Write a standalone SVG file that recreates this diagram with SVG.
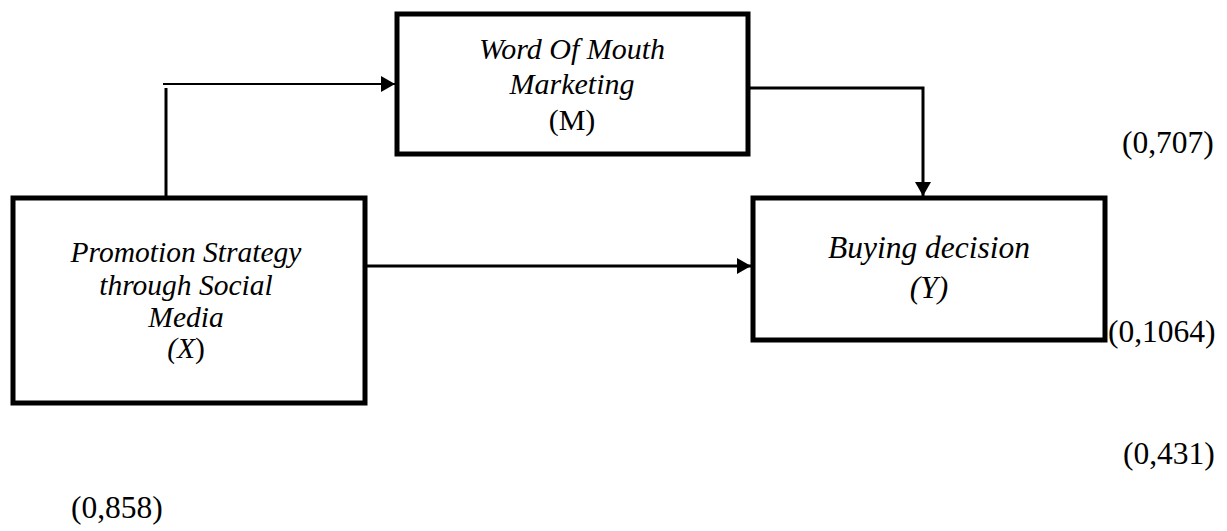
<svg xmlns="http://www.w3.org/2000/svg" width="1227" height="531" viewBox="0 0 1227 531">
<style>
.box{fill:#fff;stroke:#000;stroke-width:5;stroke-linejoin:miter}
text{font-family:'Liberation Serif',Tinos,'Times New Roman','DejaVu Serif',serif;fill:#000}
.t{text-anchor:middle}
.i{font-style:italic}
.n{font-size:31.5px}
.c{fill:none;stroke:#000;stroke-width:3}
</style>
<defs>
<marker id="ah" markerUnits="userSpaceOnUse" markerWidth="14" markerHeight="16" refX="14" refY="8" orient="auto">
<path d="M0,0 L14,8 L0,16 Z" fill="#000"/>
</marker>
</defs>
<rect width="1227" height="531" fill="#fff"/>
<g id="connectors">
<line class="c" x1="166" y1="197" x2="166" y2="88"/>
<line class="c" x1="163" y1="84" x2="395" y2="84" style="stroke-width:2" marker-end="url(#ah)"/>
<line class="c" x1="365" y1="266" x2="751" y2="266" marker-end="url(#ah)"/>
<polyline class="c" points="748,88 923,88 923,196" marker-end="url(#ah)"/>
</g>
<g id="node-M">
<rect class="box" x="397" y="14" width="351" height="140"/>
<text class="t i" x="572" y="59" font-size="30">Word Of Mouth</text>
<text class="t i" x="572" y="94" font-size="30">Marketing</text>
<text class="t" x="572" y="130" font-size="30">(M)</text>
</g>
<g id="node-X">
<rect class="box" x="13" y="198" width="352" height="205"/>
<text class="t i" x="186" y="262" font-size="29.5">Promotion Strategy</text>
<text class="t i" x="186" y="295" font-size="29.5">through Social</text>
<text class="t i" x="186" y="327" font-size="29.5">Media</text>
<text class="t" x="186" y="358" font-size="29.5"><tspan class="i">(X</tspan>)</text>
</g>
<g id="node-Y">
<rect class="box" x="753" y="198" width="352" height="142"/>
<text class="t i" x="929" y="258" font-size="31.5">Buying decision</text>
<text class="t i" x="929" y="298" font-size="31.5">(Y)</text>
</g>
<g id="labels">
<text class="n" x="1122" y="153">(0,707)</text>
<text class="n" x="1108" y="342">(0,1064)</text>
<text class="n" x="1123" y="464">(0,431)</text>
<text class="n" x="71" y="518">(0,858)</text>
</g>
</svg>
